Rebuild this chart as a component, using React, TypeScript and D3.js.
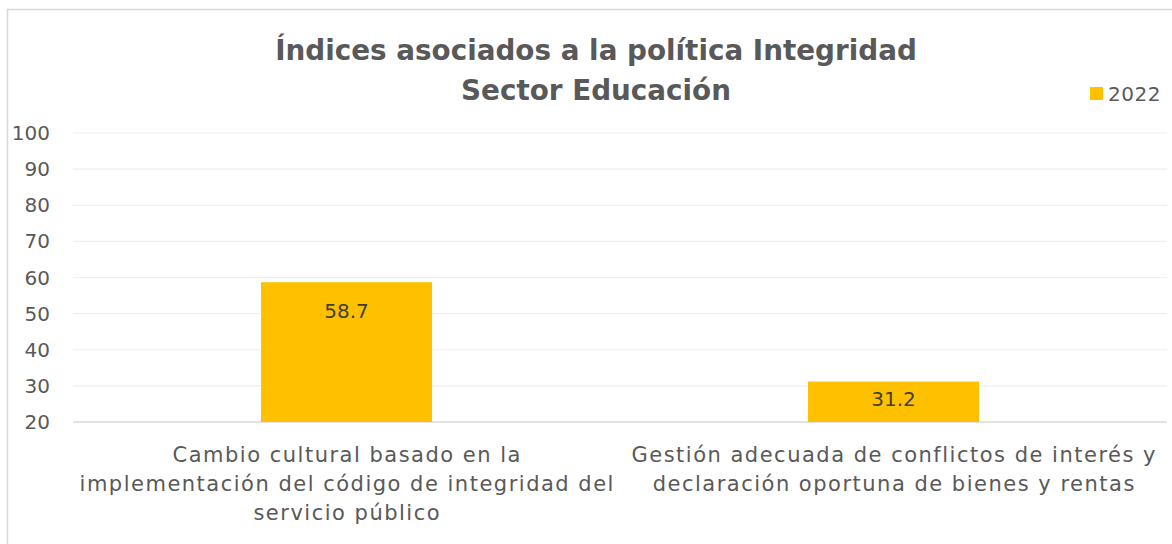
import React from "react";
import * as d3 from "d3";

const categories: string[][] = [
  ["Cambio cultural basado en la", "implementación del código de integridad del", "servicio público"],
  ["Gestión adecuada de conflictos de interés y", "declaración oportuna de bienes y rentas"],
];
const values2022: number[] = [58.7, 31.2];
const yTicks: number[] = [20, 30, 40, 50, 60, 70, 80, 90, 100];
const seriesName = "2022";
const titleLines = ["Índices asociados a la política Integridad", "Sector Educación"];

const W = 1172;
const H = 544;
const plotLeft = 73;
const plotRight = 1167;
const plotTop = 133;
const plotBottom = 422;
const GOLD = "#FFC000";
const TEXT = "#595959";
const FONT = "'DejaVu Sans', sans-serif";

export default function App() {
  const y = d3.scaleLinear().domain([20, 100]).range([plotBottom, plotTop]);
  const idx = categories.map((_, i) => String(i));
  const x = d3
    .scaleBand<string>()
    .domain(idx)
    .range([plotLeft, plotRight])
    .paddingInner(0.6875)
    .paddingOuter(0.34375);
  const center = (i: number) => (x(String(i)) as number) + x.bandwidth() / 2;

  return (
    <div style={{ position: "absolute", left: 0, top: 0 }}>
      <svg width={W} height={H} style={{ display: "block" }}>
        <rect x={0} y={0} width={W} height={H} fill="#ffffff" />
        <rect x={7.5} y={9.5} width={W + 20} height={H + 20} fill="none" stroke="#d9d9d9" strokeWidth={1.5} />
        {titleLines.map((t, i) => (
          <text
            key={t}
            x={596}
            y={60 + i * 40}
            textAnchor="middle"
            fontFamily={FONT}
            fontWeight="bold"
            fontSize={27.8}
            fill={TEXT}
          >
            {t}
          </text>
        ))}
        <rect x={1090} y={87} width={13} height={13} fill={GOLD} />
        <text x={1108} y={101} fontFamily={FONT} fontSize={20} letterSpacing={0.5} fill={TEXT}>
          {seriesName}
        </text>
        {yTicks.map((t) => (
          <g key={t}>
            <line
              x1={plotLeft}
              x2={plotRight}
              y1={y(t)}
              y2={y(t)}
              stroke={t === 20 ? "#d9d9d9" : "#eeeeee"}
              strokeWidth={t === 20 ? 1.5 : 1.2}
            />
            <text x={50} y={y(t) + 7} textAnchor="end" fontFamily={FONT} fontSize={20} fill={TEXT}>
              {t}
            </text>
          </g>
        ))}
        {values2022.map((v, i) => {
          const top = y(v);
          const base = Math.min(top + 36, plotBottom - 16);
          return (
            <g key={i}>
              <rect x={x(String(i))} y={top} width={x.bandwidth()} height={plotBottom - top} fill={GOLD} />
              <text x={center(i)} y={base} textAnchor="middle" fontFamily={FONT} fontSize={20} fill="#404040">
                {v.toFixed(1)}
              </text>
            </g>
          );
        })}
        {categories.map((lines, i) =>
          lines.map((ln, j) => (
            <text
              key={i + "-" + j}
              x={center(i) + 0.75}
              y={462 + j * 29}
              textAnchor="middle"
              fontFamily={FONT}
              fontSize={21}
              letterSpacing={1.5}
              fill={TEXT}
            >
              {ln}
            </text>
          ))
        )}
      </svg>
    </div>
  );
}
